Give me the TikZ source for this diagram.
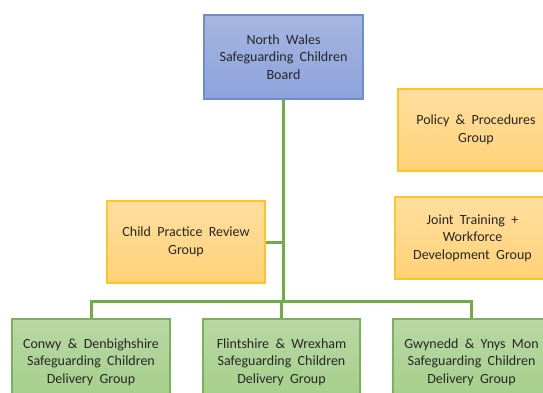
\documentclass[tikz,border=0pt]{standalone}
\usepackage{fontspec}
\setmainfont[WordSpace={2,1,1}]{Carlito}
\begin{document}
\begin{tikzpicture}[x=1pt,y=-1pt,
  box/.style={draw, line width=1.2pt, align=center, font=\fontsize{14}{17.5}\selectfont, text=black!85, inner sep=0pt},
  bluebox/.style={box, draw={rgb,255:red,110;green,140;blue,210}, top color={rgb,255:red,166;green,182;blue,226}, bottom color={rgb,255:red,140;green,162;blue,218}},
  orangebox/.style={box, draw={rgb,255:red,255;green,196;blue,40}, top color={rgb,255:red,255;green,222;blue,158}, bottom color={rgb,255:red,255;green,210;blue,120}},
  greenbox/.style={box, draw={rgb,255:red,122;green,178;blue,88}, top color={rgb,255:red,184;green,216;blue,164}, bottom color={rgb,255:red,164;green,206;blue,136}},
  conn/.style={draw={rgb,255:red,112;green,173;blue,71}, line width=3pt}]
\useasboundingbox (0,0) rectangle (543,392);
\clip (0,0) rectangle (543,392);
\fill[white] (0,0) rectangle (543,392);
\node[bluebox, minimum width=159pt, minimum height=84pt] (board) at (283.5,57) {North Wales\\Safeguarding Children\\Board};
\node[orangebox, minimum width=158pt, minimum height=82pt] (cpr) at (186,242) {Child Practice Review\\Group};
\node[orangebox, minimum width=156pt, minimum height=82pt] (policy) at (476,130) {Policy \& Procedures\\Group};
\node[orangebox, minimum width=155pt, minimum height=82pt] (joint) at (472.5,238) {Joint Training +\\Workforce\\Development Group};
\node[greenbox, minimum width=158pt, minimum height=86pt] (b1) at (91,362) {Conwy \& Denbighshire\\Safeguarding Children\\Delivery Group};
\node[greenbox, minimum width=157pt, minimum height=86pt] (b2) at (281.5,362) {Flintshire \& Wrexham\\Safeguarding Children\\Delivery Group};
\node[greenbox, minimum width=157pt, minimum height=86pt] (b3) at (471.5,362) {Gwynedd \& Ynys Mon\\Safeguarding Children\\Delivery Group};
\coordinate (bus) at (283.5,301);
\path[conn] (board.south) -- (bus);
\path[conn] (cpr.east) -- (cpr.east -| board.south);
\path[conn] (b1.north) |- (bus) -| (b3.north);
\path[conn] (b2.north) -- (b2.north |- bus);
\end{tikzpicture}
\end{document}
